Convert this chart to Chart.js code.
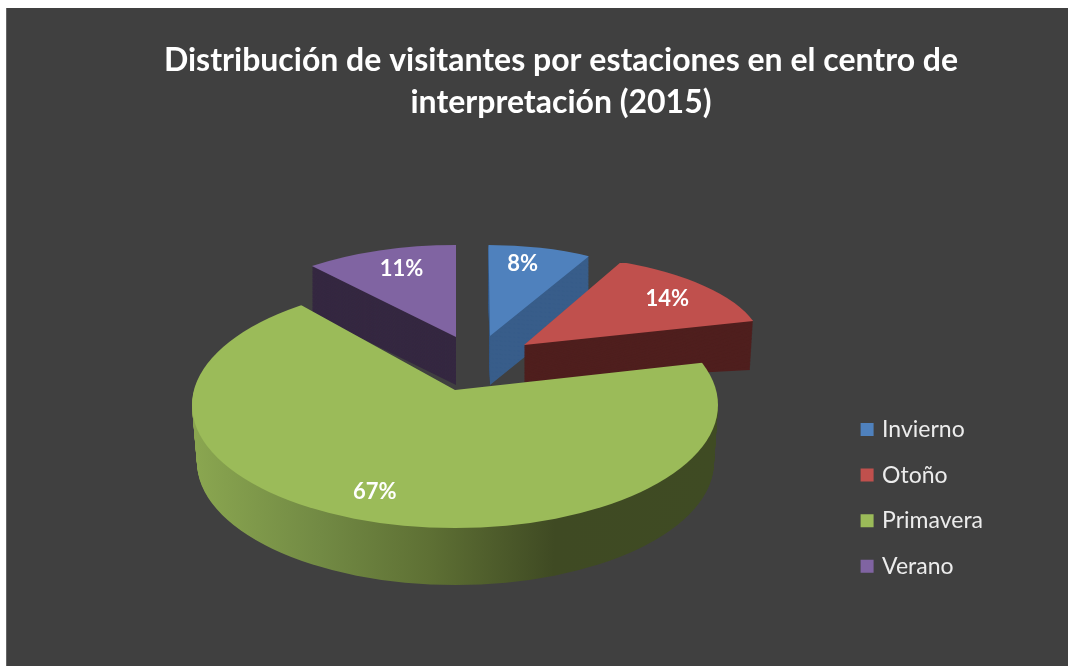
<!DOCTYPE html>
<html>
<head>
<meta charset="utf-8">
<style>
    html, body { margin: 0; padding: 0; background: #fff; overflow: hidden; }
    #panel { position: absolute; left: 6px; top: 8px; right: 0; bottom: 0; background: #404040; border-left: 1px solid #666; }
    #chart1 { position: absolute; left: 0; top: 0; }
</style>
<script src="https://cdn.jsdelivr.net/npm/chart.js@4/dist/chart.umd.min.js"></script>
</head>
<body>
<div id="panel"></div>
<canvas id="chart1" width="1068" height="666"></canvas>
<script>
const titulo = ['Distribución de visitantes por estaciones en el centro de', 'interpretación (2015)'];
const estaciones = ['Invierno', 'Otoño', 'Primavera', 'Verano'];
const visitantes = [8, 14, 67, 11];
const colores = ['#4f81bd', '#c0504d', '#9bbb59', '#8064a2'];
const coloresLado = ['#385d8a', '#4f1f1e', '#3f4a23', '#352841'];

// vista 3D de cada porcion: matriz [a, b, c, d, e, f] de la cara superior y de la inferior
const vistas = [
    { top: [208, 0, 1.5, 91, 490, 336], bottom: [208, 0, 1.5, 91, 490, 385], ajuste: [-7, -2] },
    { top: [237, -7.1, 19.6, 90.8, 524, 345], bottom: [233.5, 6.5, 17.7, 98.3, 524, 382], ajuste: [1, 1] },
    { top: [300, -6, 0, 142, 455, 390], bottom: [296, -6, 0, 142, 455, 447], ajuste: [0, -5],
      clipTop: [455, 405, 263, 123], clipBottom: [455.5, 462, 258.5, 123] },
    { top: [226, 0, 0, 92, 456, 337], bottom: [226, 0, 0, 92, 456, 385], ajuste: [6, 0] }
];
const ordenDibujo = [3, 0, 1, 2];
const pasosLado = 60;

function mezcla(a, b, t) {
    return a.map((v, i) => v + (b[i] - v) * t);
}

function dibujarCara(ctx, arc, m, clip, color) {
    const original = arc.options;
    arc.options = Object.create(original, { backgroundColor: { value: color } });
    ctx.save();
    if (clip) {
        ctx.beginPath();
        ctx.ellipse(clip[0], clip[1], clip[2], clip[3], 0, 0, Math.PI * 2);
        ctx.clip();
    }
    ctx.transform(m[0], m[1], m[2], m[3], m[4], m[5]);
    ctx.scale(1 / arc.outerRadius, 1 / arc.outerRadius);
    ctx.translate(-arc.x, -arc.y);
    arc.draw(ctx);
    ctx.restore();
    arc.options = original;
}

function degradadoLado(ctx, arc, vista) {
    const [a, , , , e] = vista.bottom;
    const local = px => arc.x + (px - e) * arc.outerRadius / a;
    const g = ctx.createLinearGradient(local(197), 0, local(714), 0);
    g.addColorStop(0, '#8aa650');
    g.addColorStop(0.24, '#728a44');
    g.addColorStop(0.45, '#5e7034');
    g.addColorStop(0.69, '#3f4a23');
    g.addColorStop(1, '#3f4b23');
    return g;
}

const pastel3d = {
    id: 'pastel3d',
    beforeDatasetsDraw(chart) {
        const ctx = chart.ctx;
        const arcos = chart.getDatasetMeta(0).data;
        ordenDibujo.forEach(i => {
            const arc = arcos[i];
            const v = vistas[i];
            const lado = v.clipTop ? degradadoLado(ctx, arc, v) : coloresLado[i];
            for (let p = pasosLado; p > 0; p--) {
                const t = p / pasosLado;
                dibujarCara(ctx, arc, mezcla(v.top, v.bottom, t),
                    v.clipTop ? mezcla(v.clipTop, v.clipBottom, t) : null, lado);
            }
            dibujarCara(ctx, arc, v.top, v.clipTop, colores[i]);
        });
        // etiquetas de porcentaje
        ctx.save();
        ctx.font = 'bold 22px Lato';
        ctx.fillStyle = '#ffffff';
        ctx.textAlign = 'center';
        ctx.textBaseline = 'middle';
        arcos.forEach((arc, i) => {
            const m = vistas[i].top;
            const medio = (arc.startAngle + arc.endAngle) / 2;
            const ux = Math.cos(medio) * 0.79;
            const uy = Math.sin(medio) * 0.79;
            ctx.fillText(visitantes[i] + '%',
                m[0] * ux + m[2] * uy + m[4] + vistas[i].ajuste[0],
                m[1] * ux + m[3] * uy + m[5] + vistas[i].ajuste[1]);
        });
        ctx.restore();
        return false;
    }
};

var ctx = document.getElementById('chart1').getContext('2d');
var myChart = new Chart(ctx, {
    type: 'pie',
    data: {
        labels: estaciones,
        datasets: [{
            data: visitantes,
            backgroundColor: colores,
            borderWidth: 0
        }]
    },
    options: {
        responsive: false,
        animation: false,
        layout: { padding: { left: 129, right: 75 } },
        plugins: {
            title: {
                display: true,
                text: titulo,
                color: '#ffffff',
                font: { family: 'Lato', size: 32, weight: 'bold', lineHeight: 1.31 },
                padding: { top: 40, bottom: 206 }
            },
            legend: {
                position: 'right',
                fullSize: false,
                labels: {
                    color: '#ececec',
                    font: { family: 'Lato', size: 23 },
                    boxWidth: 7,
                    boxHeight: 7,
                    padding: 22.6,
                    // caja pequena con trazo grueso, para acercar el texto a la caja
                    generateLabels: c => Chart.overrides.pie.plugins.legend.labels.generateLabels(c)
                        .map(it => ({ ...it, lineWidth: 6, strokeStyle: it.fillStyle }))
                }
            },
            tooltip: { enabled: false }
        }
    },
    plugins: [pastel3d]
});
</script>
</body>
</html>
